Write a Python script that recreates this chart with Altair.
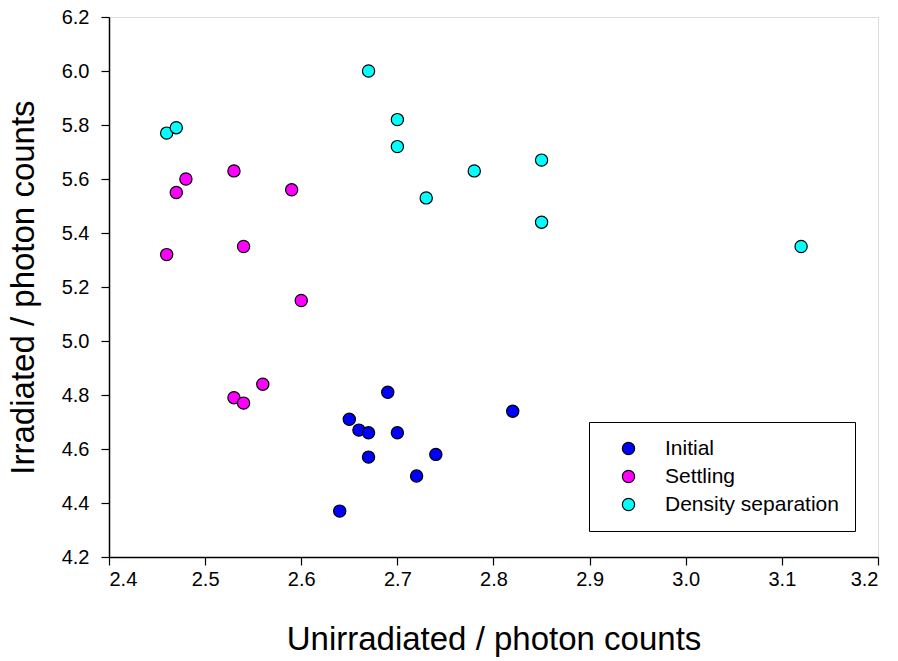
import altair as alt
import pandas as pd

# Data
initial_x = [2.64, 2.65, 2.66, 2.67, 2.67, 2.69, 2.70, 2.72, 2.74, 2.82]
initial_y = [4.37, 4.71, 4.67, 4.66, 4.57, 4.81, 4.66, 4.50, 4.58, 4.74]

settling_x = [2.46, 2.47, 2.48, 2.53, 2.54, 2.59, 2.60, 2.53, 2.54, 2.56]
settling_y = [5.32, 5.55, 5.60, 5.63, 5.35, 5.56, 5.15, 4.79, 4.77, 4.84]

density_x = [2.46, 2.47, 2.67, 2.70, 2.70, 2.73, 2.78, 2.85, 2.85, 3.12]
density_y = [5.77, 5.79, 6.00, 5.82, 5.72, 5.53, 5.63, 5.67, 5.44, 5.35]

groups = ["Initial", "Settling", "Density separation"]
colors = ["#0000FF", "#FF00FF", "#00FFFF"]

x_ticks = [2.4, 2.5, 2.6, 2.7, 2.8, 2.9, 3.0, 3.1, 3.2]
y_ticks = [4.2, 4.4, 4.6, 4.8, 5.0, 5.2, 5.4, 5.6, 5.8, 6.0, 6.2]

rows = []
for name, xs, ys in [("Initial", initial_x, initial_y),
                     ("Settling", settling_x, settling_y),
                     ("Density separation", density_x, density_y)]:
    for a, b in zip(xs, ys):
        rows.append({"x": a, "y": b, "group": name})
df = pd.DataFrame(rows)

FONT = "Liberation Sans, Arial, sans-serif"

chart = alt.Chart(df).mark_point(
    filled=True, shape="circle", size=150, stroke="black", strokeWidth=1.2, opacity=1
).encode(
    x=alt.X("x:Q",
            scale=alt.Scale(domain=[2.4, 3.2], nice=False, zero=False),
            axis=alt.Axis(values=x_ticks, format=".1f", grid=False,
                          tickSize=8, tickColor="black", tickWidth=1.2,
                          domainColor="black", domainWidth=1.5,
                          labelFont=FONT, labelFontSize=20, labelColor="black",
                          labelPadding=4,
                          title="Unirradiated / photon counts",
                          titleFont=FONT, titleFontSize=33, titleFontWeight="normal",
                          titleColor="black", titleBaseline="alphabetic",
                          titleX=384.5, titleY=92)),
    y=alt.Y("y:Q",
            scale=alt.Scale(domain=[4.2, 6.2], nice=False, zero=False),
            axis=alt.Axis(values=y_ticks, format=".1f", grid=False,
                          tickSize=8, tickColor="black", tickWidth=1.2,
                          domainColor="black", domainWidth=1.5,
                          labelFont=FONT, labelFontSize=20, labelColor="black",
                          labelPadding=12,
                          title="Irradiated / photon counts",
                          titleFont=FONT, titleFontSize=33, titleFontWeight="normal",
                          titleColor="black", titleBaseline="alphabetic",
                          titleAngle=270, titleX=-76, titleY=270)),
    color=alt.Color("group:N",
                    scale=alt.Scale(domain=groups, range=colors),
                    legend=alt.Legend(title=None, orient="none", legendX=480, legendY=405,
                                      strokeColor="black", fillColor="white",
                                      padding=16, labelFont=FONT, labelFontSize=21,
                                      labelColor="black", labelLimit=0, symbolSize=150,
                                      symbolType="circle", symbolStrokeColor="black",
                                      symbolStrokeWidth=1.2, symbolOpacity=1,
                                      rowPadding=6, labelOffset=26, symbolOffset=13)),
).properties(
    width=769, height=540,
    autosize=alt.AutoSizeParams(type="none"),
    padding={"left": 109, "top": 17, "right": 20, "bottom": 104},
).configure_view(
    stroke="black", strokeWidth=1.3
).configure(background="white")

chart.save("out.html", embed_options={"renderer": "svg", "actions": False})
